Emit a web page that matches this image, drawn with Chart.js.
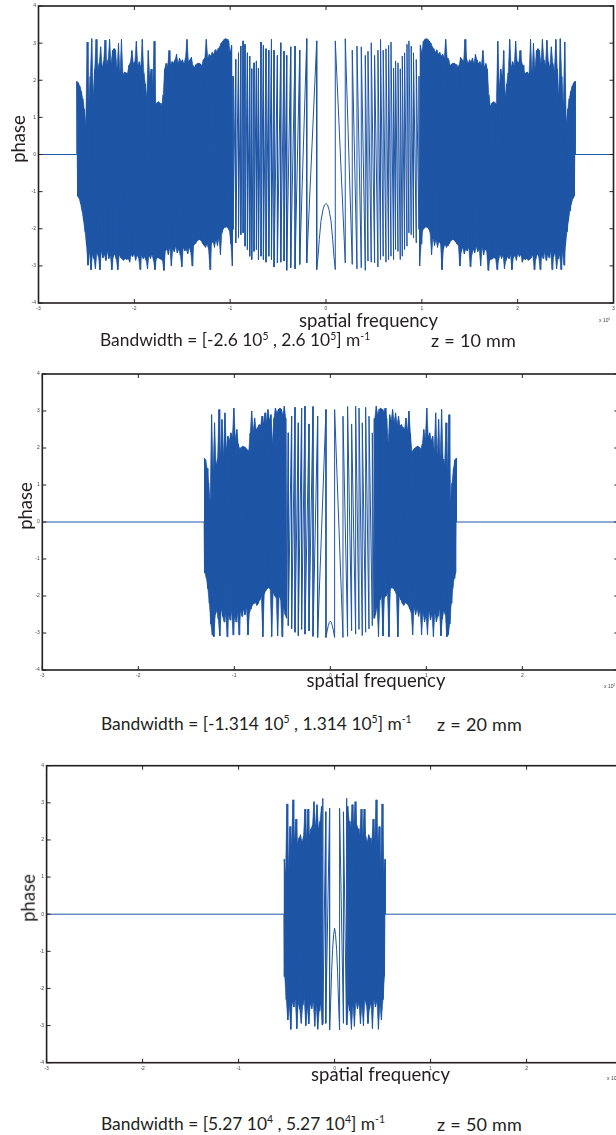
<!DOCTYPE html>
<html>
<head>
<meta charset="utf-8">
<title>phase vs spatial frequency</title>
<script src="https://cdn.jsdelivr.net/npm/chart.js@4.4.1/dist/chart.umd.min.js"></script>
<style>
  html, body { margin:0; padding:0; background:#ffffff; }
  body { width:616px; height:1135px; overflow:hidden; position:relative; }
  .plot { position:absolute; left:0; width:640px; height:330px; }
  .lbl { position:absolute; color:#231f20; font-family:'Lato','Liberation Sans',sans-serif; white-space:nowrap; line-height:1; }
  .ylab { font-size:18.5px; transform:translate(-50%,-50%) rotate(-90deg); }
  .xlab { font-size:18.5px; transform:translate(-50%,-50%); }
  .mult { font-family:'Liberation Sans',sans-serif; font-size:5px; color:#444; transform:translateY(-50%); }
  .bw { font-size:17.4px; transform:translateY(-50%); }
  .zz { font-size:18px; word-spacing:0.6px; transform:translateY(-50%); }
  .sup { font-size:0.6em; position:relative; top:-0.6em; }
</style>
</head>
<body>
<div class="plot" style="top:0px"><canvas id="c1" width="640" height="330"></canvas></div>
<div class="plot" style="top:360px"><canvas id="c2" width="640" height="330"></canvas></div>
<div class="plot" style="top:750px"><canvas id="c3" width="640" height="330"></canvas></div>

<div class="lbl ylab" style="left:18px;top:139px">phase</div>
<div class="lbl xlab" style="left:368.5px;top:319.5px">spatial frequency</div>
<div class="lbl mult" style="left:599px;top:320px">x 10<span class="sup">5</span></div>
<div class="lbl bw" style="left:100px;top:340px">Bandwidth = [-2.6 10<span class="sup">5</span> , 2.6 10<span class="sup">5</span>] m<span class="sup">-1</span></div>
<div class="lbl zz" style="left:431px;top:340px">z = 10 mm</div>

<div class="lbl ylab" style="left:25px;top:506px">phase</div>
<div class="lbl xlab" style="left:376px;top:679.5px">spatial frequency</div>
<div class="lbl mult" style="left:604px;top:686px">x 10<span class="sup">5</span></div>
<div class="lbl bw" style="left:101px;top:723.5px">Bandwidth = [-1.314 10<span class="sup">5</span> , 1.314 10<span class="sup">5</span>] m<span class="sup">-1</span></div>
<div class="lbl zz" style="left:437px;top:723.5px">z = 20 mm</div>

<div class="lbl ylab" style="left:28px;top:898px">phase</div>
<div class="lbl xlab" style="left:380.5px;top:1073.5px">spatial frequency</div>
<div class="lbl mult" style="left:607px;top:1078px">x 10<span class="sup">5</span></div>
<div class="lbl bw" style="left:101px;top:1123.5px">Bandwidth = [5.27 10<span class="sup">4</span> , 5.27 10<span class="sup">4</span>] m<span class="sup">-1</span></div>
<div class="lbl zz" style="left:437px;top:1123.5px">z = 50 mm</div>

<script>
// ---------- axis data (spatial frequency in units of 1e5 m^-1, phase in rad) ----------
const xTickMin = -3, xTickMax = 3;
const yTickMin = -4, yTickMax = 4;

// ---------- panel 1 : z = 10 mm, bandwidth +-2.6e5 (left half read; plot is mirror symmetric) ----------
const p1Band = 2.6;
const p1DenseEnd = 0.985;
const p1Hi = [1.97,1.93,1.84,1.70,1.50,1.22,0.85,3.03,1.35,2.10,
  3.12,1.60,2.30,3.10,2.25,2.45,2.90,2.35,2.50,3.08,
  2.40,2.55,3.10,2.45,2.80,2.85,2.80,2.30,3.00,2.20,
  3.10,2.15,2.22,2.20,2.18,2.40,2.48,2.80,2.45,2.50,
  3.05,2.40,2.50,2.35,3.10,2.20,1.90,1.55,2.80,2.10,
  2.30,1.80,3.05,1.35,1.40,1.42,1.38,1.30,1.60,2.30,
  2.45,2.35,2.80,2.40,2.50,2.45,2.55,2.70,2.45,2.60,
  2.50,2.55,2.45,2.60,3.10,2.50,2.55,2.62,2.40,2.35,
  2.42,2.45,2.46,2.44,2.40,2.55,2.60,3.10,2.60,2.70,
  2.65,2.75,2.70,2.82,2.75,2.85,2.90,3.00,3.05,3.10,
  3.12,3.10,3.05,2.75,2.95];
const p1Lo = [-1.12,-1.18,-1.32,-1.52,-1.78,-2.08,-2.45,-2.98,-2.62,-3.10,
  -2.70,-2.80,-3.08,-2.65,-2.75,-3.10,-2.60,-2.78,-2.70,-2.85,
  -2.62,-2.80,-2.72,-3.10,-2.75,-2.68,-2.82,-3.10,-2.70,-2.78,
  -2.82,-2.85,-2.80,-2.83,-2.80,-2.90,-2.70,-2.75,-2.68,-2.85,
  -2.72,-2.78,-3.10,-2.70,-2.80,-2.75,-2.85,-3.08,-2.72,-2.80,
  -2.70,-2.85,-3.10,-2.80,-2.78,-2.80,-2.82,-2.85,-3.12,-2.60,
  -2.55,-2.70,-2.50,-3.00,-2.55,-2.62,-2.48,-2.65,-2.55,-2.70,
  -3.02,-2.50,-2.60,-2.55,-2.68,-2.50,-2.62,-3.00,-2.45,-2.40,
  -2.35,-2.30,-2.29,-2.32,-2.40,-2.45,-2.50,-2.42,-2.55,-3.10,
  -2.40,-2.35,-2.50,-2.30,-2.45,-2.25,-2.70,-2.10,-2.00,-1.96,
  -1.95,-1.98,-2.05,-2.40,-3.00];
const p1WrapF = [0.970,0.942,0.913,0.889,0.865,0.845,0.820,0.796,0.775,0.751,0.726,0.705,0.678,0.653,0.626,0.597,0.569,0.542,0.507,0.472,0.438,0.410,0.368,0.323,0.274,0.201,0.097];
const p1WrapTop = [2.11,2.56,2.74,2.92,3.06,2.97,2.74,2.65,2.31,2.47,2.52,2.33,3.03,2.94,2.85,2.81,3.10,2.81,2.67,3.01,2.78,2.67,2.90,2.92,2.81,3.12,3.06];
const p1WrapBot = [-2.02,-2.38,-2.25,-2.16,-2.11,-2.47,-2.56,-2.74,-2.83,-2.61,-2.56,-2.83,-2.74,-2.83,-2.90,-2.74,-2.83,-3.03,-2.92,-2.90,-2.87,-3.12,-3.05,-3.08,-2.96,-2.92,-3.10];
const p1ArchF = [0.083,0.070,0.052,0.031,0.016,0];
const p1ArchY = [-2.75,-2.29,-1.78,-1.48,-1.36,-1.32];

// ---------- panel 2 : z = 20 mm, bandwidth +-1.314e5 ----------
const p2Band = 1.314;
const p2DenseEnd = 0.4635;
const p2Hi = [1.73,1.68,1.45,1.05,0.55,2.90,1.40,2.68,1.55,1.70,
  3.04,1.75,2.77,1.80,2.95,1.95,2.32,2.20,2.41,2.30,
  3.08,2.25,2.50,2.10,1.98,2.02,2.05,2.03,2.00,1.95,
  1.90,2.40,3.00,2.45,2.81,2.50,2.55,2.63,2.60,2.86,
  2.65,2.95,2.70,3.04,2.75,2.90,2.14,2.80,3.08,2.95,
  3.04,3.08,3.05,2.90,3.13,2.80];
const p2Lo = [-1.37,-1.52,-1.80,-2.20,-2.75,-3.05,-3.10,-2.50,-2.40,-2.62,
  -3.08,-2.35,-2.55,-2.70,-2.45,-3.10,-2.50,-2.65,-2.40,-3.05,
  -2.55,-2.70,-2.45,-3.05,-2.40,-2.55,-2.35,-2.50,-2.30,-3.05,
  -2.45,-2.35,-2.25,-2.20,-2.18,-2.25,-2.20,-2.10,-2.00,-3.10,
  -1.95,-1.85,-1.80,-1.77,-1.82,-3.10,-1.90,-2.00,-2.05,-3.08,
  -2.00,-2.10,-3.10,-2.30,-2.50,-2.60];
const p2WrapF = [0.4375,0.403,0.368,0.333,0.299,0.264,0.222,0.180,0.132,0.045];
const p2WrapTop = [2.41,2.86,3.10,2.68,3.08,3.13,2.65,3.12,2.86,3.04];
const p2WrapBot = [-2.80,-2.89,-2.98,-3.07,-2.90,-3.03,-2.94,-3.09,-3.12,-3.12];
const p2ArchF = [0.031,0.021,0.010,0];
const p2ArchY = [-2.92,-2.80,-2.71,-2.68];

// ---------- panel 3 : z = 50 mm, bandwidth +-5.27e4 ----------
const p3Band = 0.527;
const p3DenseEnd = 0.1365;
const p3Hi = [1.48,1.10,2.97,1.20,2.36,1.85,3.08,1.95,2.56,1.90,2.05,2.14,1.95,2.10,2.83,2.00,2.83,2.10,2.30,2.40,3.03,2.35,2.95,2.30,2.50,2.91];
const p3Lo = [-1.68,-2.30,-2.85,-2.45,-3.10,-2.35,-2.50,-2.30,-3.08,-2.40,-2.55,-2.94,-2.45,-2.30,-3.00,-2.50,-2.95,-2.40,-2.55,-2.35,-3.02,-2.45,-3.10,-2.60,-2.40,-2.98];
const p3WrapF = [0.123,0.092,0.052];
const p3WrapTop = [3.12,2.76,2.85];
const p3WrapBot = [-2.95,-2.94,-3.12];
const p3ArchF = [0.042,0.031,0.021,0.010,0];
const p3ArchY = [-2.45,-1.55,-0.95,-0.55,-0.38];

const lineBlue = '#1f56a6';

// Full trace of one panel from its read values (left half, then its mirror image).
function buildSeries(band, denseEnd, hi, lo, wrapF, wrapTop, wrapBot, archF, archY) {
  const left = [{x: xTickMin, y: 0}, {x: -band, y: 0}];
  const n = hi.length;
  const step = (band - denseEnd) / (n - 1);
  for (let i = 0; i < n; i++) {
    const xv = -band + i * step;
    left.push({x: xv, y: hi[i]});
    left.push({x: xv + step / 2, y: lo[i]});
  }
  for (let k = 0; k < wrapF.length; k++) {
    left.push({x: -wrapF[k], y: wrapTop[k]});
    left.push({x: -wrapF[k], y: wrapBot[k]});
  }
  for (let k = 0; k < archF.length; k++) left.push({x: -archF[k], y: archY[k]});
  const right = left.slice(0, -1).reverse().map(p => ({x: -p.x, y: p.y}));
  return left.concat(right);
}

// Outline of the densely over-plotted block (upper tips forward, lower tips back), one side.
function buildBlock(band, denseEnd, hi, lo, side) {
  const n = hi.length;
  const step = (band - denseEnd) / (n - 1);
  const pts = [];
  for (let i = 0; i < n; i++) pts.push({x: side * (-band + i * step), y: hi[i]});
  for (let i = n - 1; i >= 0; i--) pts.push({x: side * (-band + i * step + step / 2), y: lo[i]});
  return pts;
}

const boxPlugin = {
  id: 'matlabBox',
  afterDatasetsDraw(chart) {
    const {ctx, chartArea: a} = chart;
    const xs = chart.scales.x, ys = chart.scales.y;
    ctx.save();
    ctx.strokeStyle = '#262626';
    ctx.lineWidth = 1;
    ctx.beginPath();
    xs.ticks.forEach(t => {
      const px = xs.getPixelForValue(t.value);
      ctx.moveTo(px, a.top); ctx.lineTo(px, a.top + 4);
      ctx.moveTo(px, a.bottom); ctx.lineTo(px, a.bottom - 4);
    });
    ys.ticks.forEach(t => {
      const py = ys.getPixelForValue(t.value);
      ctx.moveTo(a.left, py); ctx.lineTo(a.left + 4, py);
      ctx.moveTo(a.right, py); ctx.lineTo(a.right - 4, py);
    });
    ctx.stroke();
    ctx.lineWidth = 1.6;
    ctx.strokeStyle = '#231f20';
    ctx.strokeRect(a.left, a.top, a.right - a.left, a.bottom - a.top);
    ctx.restore();
  }
};

function makePanel(id, frame, series, blockL, blockR) {
  const tickFont = {family: "'Liberation Sans', Arial, sans-serif", size: 5};
  const blockStyle = {showLine: true, fill: 'shape', backgroundColor: lineBlue, borderColor: lineBlue,
    borderWidth: 0.6, pointRadius: 0, pointHoverRadius: 0, tension: 0};
  new Chart(document.getElementById(id), {
    type: 'scatter',
    data: {datasets: [
      {data: series, showLine: true, borderColor: lineBlue, borderWidth: 1,
        pointRadius: 0, pointHoverRadius: 0, fill: false, tension: 0},
      Object.assign({data: blockL}, blockStyle),
      Object.assign({data: blockR}, blockStyle)
    ]},
    options: {
      responsive: false, animation: false, events: [],
      layout: {padding: {top: frame.top - frame.T, right: 640 - frame.right, left: 0, bottom: 0}},
      plugins: {legend: {display: false}, tooltip: {enabled: false}},
      scales: {
        x: {type: 'linear', min: xTickMin, max: xTickMax,
          afterFit: s => { s.height = frame.T + 330 - frame.bottom; },
          grid: {display: false, drawTicks: false}, border: {display: false},
          ticks: {stepSize: 1, autoSkip: false, maxRotation: 0, padding: 2.5, color: '#444', font: tickFont}},
        y: {type: 'linear', min: yTickMin, max: yTickMax,
          afterFit: s => { s.width = frame.left; },
          grid: {display: false, drawTicks: false}, border: {display: false},
          ticks: {stepSize: 1, autoSkip: false, padding: 2.5, color: '#444', font: tickFont}}
      }
    },
    plugins: [boxPlugin]
  });
}

makePanel('c1', {T: 0, top: 6, bottom: 303, left: 38.5, right: 613.5},
  buildSeries(p1Band, p1DenseEnd, p1Hi, p1Lo, p1WrapF, p1WrapTop, p1WrapBot, p1ArchF, p1ArchY),
  buildBlock(p1Band, p1DenseEnd, p1Hi, p1Lo, 1), buildBlock(p1Band, p1DenseEnd, p1Hi, p1Lo, -1));
makePanel('c2', {T: 360, top: 374, bottom: 670, left: 42.3, right: 618.3},
  buildSeries(p2Band, p2DenseEnd, p2Hi, p2Lo, p2WrapF, p2WrapTop, p2WrapBot, p2ArchF, p2ArchY),
  buildBlock(p2Band, p2DenseEnd, p2Hi, p2Lo, 1), buildBlock(p2Band, p2DenseEnd, p2Hi, p2Lo, -1));
makePanel('c3', {T: 750, top: 765.7, bottom: 1062.7, left: 46.6, right: 622.6},
  buildSeries(p3Band, p3DenseEnd, p3Hi, p3Lo, p3WrapF, p3WrapTop, p3WrapBot, p3ArchF, p3ArchY),
  buildBlock(p3Band, p3DenseEnd, p3Hi, p3Lo, 1), buildBlock(p3Band, p3DenseEnd, p3Hi, p3Lo, -1));
</script>
</body>
</html>
